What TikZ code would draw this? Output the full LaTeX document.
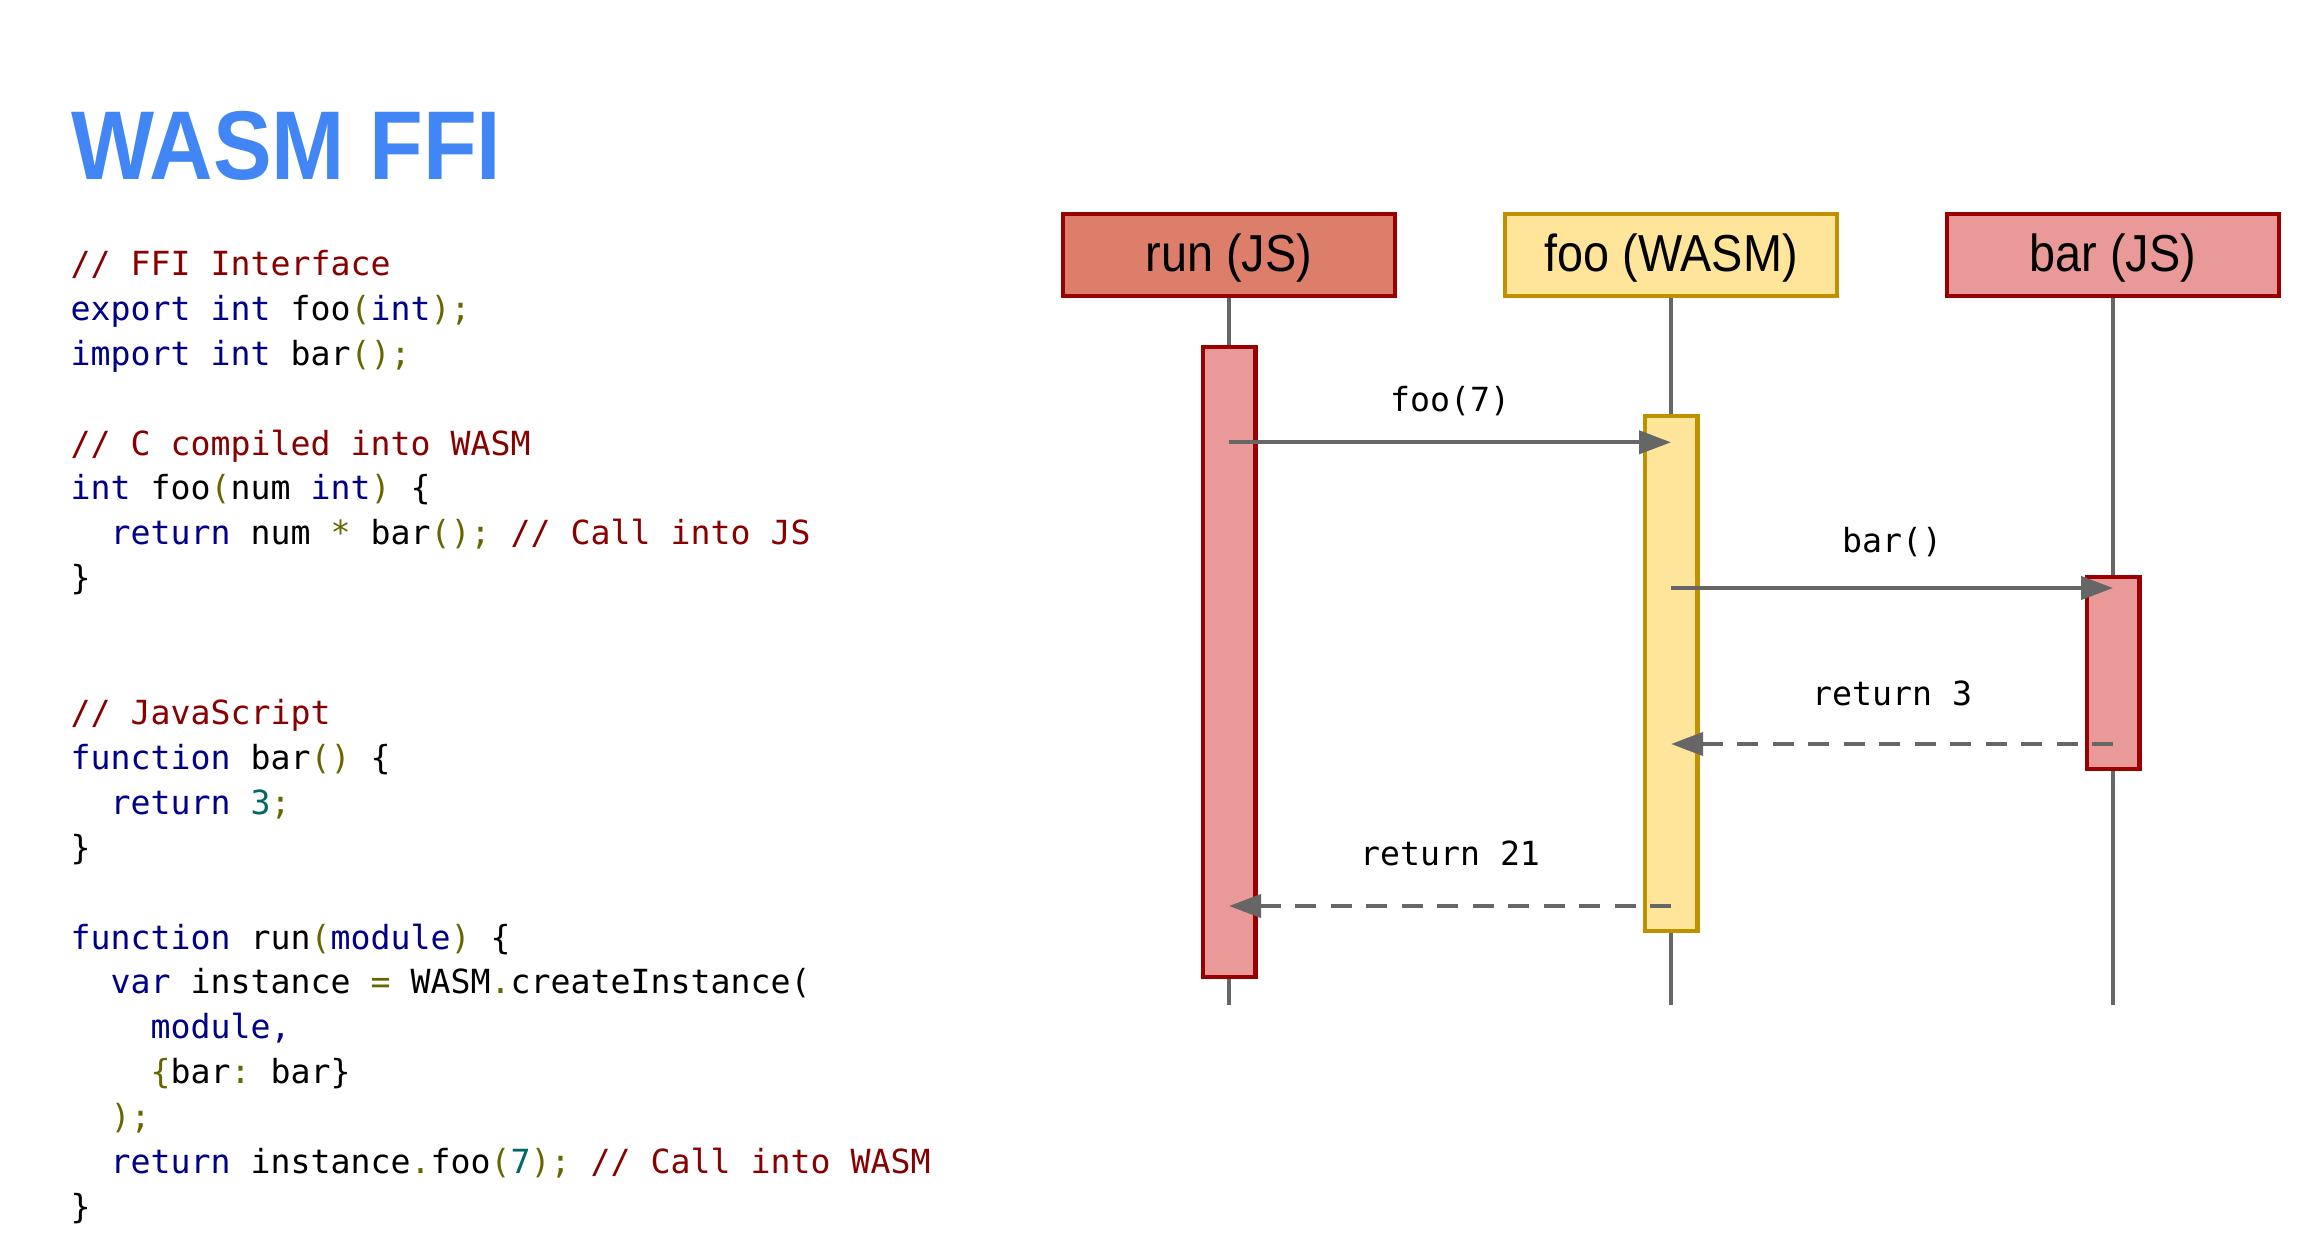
\documentclass[tikz,border=0pt]{standalone}
\usepackage{fontspec}
\usetikzlibrary{positioning, arrows.meta}

\newfontfamily\codefont{DejaVu Sans Mono}
\newfontfamily\headfont[FakeStretch=0.9]{Liberation Sans}

\definecolor{titleblue}{HTML}{4285F4}
\definecolor{runfill}{HTML}{DD7E6B}
\definecolor{jsfill}{HTML}{EA9999}
\definecolor{jsline}{HTML}{990000}
\definecolor{wasmfill}{HTML}{FFE599}
\definecolor{wasmline}{HTML}{BF9000}
\definecolor{linegray}{HTML}{666666}
\definecolor{comred}{HTML}{880000}
\definecolor{kwdblue}{HTML}{000088}
\definecolor{punolive}{HTML}{666600}
\definecolor{litteal}{HTML}{006666}

\newcommand{\kw}[1]{\textcolor{kwdblue}{#1}}
\newcommand{\cmt}[1]{\textcolor{comred}{#1}}
\newcommand{\pn}[1]{\textcolor{punolive}{#1}}
\newcommand{\lit}[1]{\textcolor{litteal}{#1}}
\newcommand{\ind}{\hphantom{xx}}
\frenchspacing

\begin{document}
\begin{tikzpicture}[
        node distance=1.06cm,
        header/.style={draw, line width=0.04cm, minimum width=3.32cm, minimum height=0.82cm, inner sep=0pt, text height=0.44cm, text depth=0.106cm, font=\headfont\fontsize{14.8pt}{17pt}\selectfont},
        act/.style={draw, line width=0.045cm, minimum width=0.525cm, inner sep=0pt},
        life/.style={draw=linegray, line width=0.04cm},
        call/.style={draw=linegray, line width=0.04cm, -{Triangle[length=0.32cm, width=0.23cm]}},
        ret/.style={call, dash pattern=on 0.21cm off 0.145cm},
        code/.style={anchor=base west, inner sep=0pt, font=\codefont\fontsize{9.45pt}{12pt}\selectfont},
        msg/.style={anchor=base, inner sep=0pt, font=\codefont\fontsize{9.45pt}{12pt}\selectfont}
    ]
    \useasboundingbox[fill=white] (0,0) rectangle (23.1,-12.48);

    % Title
    \node[anchor=base west, inner sep=0pt, text=titleblue, font=\headfont\bfseries\fontsize{27.8pt}{32pt}\selectfont] (title) at (0.707,-1.798) {WASM FFI};

    % Code
    \node[code] (code0) at (0.70,-2.755) {\cmt{// FFI Interface}};
    \node[code] (code1) at (0.70,-3.204) {\kw{export int} foo\pn{(}\kw{int}\pn{);}};
    \node[code] (code2) at (0.70,-3.653) {\kw{import int} bar\pn{();}};
    \node[code] (code4) at (0.70,-4.551) {\cmt{// C compiled into WASM}};
    \node[code] (code5) at (0.70,-5.000) {\kw{int} foo\pn{(}num \kw{int}\pn{)} \{};
    \node[code] (code6) at (0.70,-5.449) {\ind\kw{return} num \pn{*} bar\pn{();} \cmt{// Call into JS}};
    \node[code] (code7) at (0.70,-5.898) {\}};
    \node[code] (code10) at (0.70,-7.245) {\cmt{// JavaScript}};
    \node[code] (code11) at (0.70,-7.694) {\kw{function} bar\pn{()} \{};
    \node[code] (code12) at (0.70,-8.143) {\ind\kw{return} \lit{3}\pn{;}};
    \node[code] (code13) at (0.70,-8.592) {\}};
    \node[code] (code15) at (0.70,-9.490) {\kw{function} run\pn{(}\kw{module}\pn{)} \{};
    \node[code] (code16) at (0.70,-9.939) {\ind\kw{var} instance \pn{=} WASM\pn{.}createInstance(};
    \node[code] (code17) at (0.70,-10.388) {\ind\ind\kw{module,}};
    \node[code] (code18) at (0.70,-10.837) {\ind\ind\pn{\{}bar\pn{:} bar\}};
    \node[code] (code19) at (0.70,-11.286) {\ind\pn{);}};
    \node[code] (code20) at (0.70,-11.735) {\ind\kw{return} instance\pn{.}foo\pn{(}\lit{7}\pn{);} \cmt{// Call into WASM}};
    \node[code] (code21) at (0.70,-12.184) {\}};

    % Headers
    \node[header, fill=runfill, draw=jsline] (run) at (12.29,-2.55) {run (JS)};
    \node[header, fill=wasmfill, draw=wasmline, right=of run] (foo) {foo (WASM)};
    \node[header, fill=jsfill, draw=jsline, right=of foo] (bar) {bar (JS)};

    % Lifelines
    \coordinate (lifeend) at (0,-10.05);
    \draw[life] (run.south) -- (run.south |- lifeend);
    \draw[life] (foo.south) -- (foo.south |- lifeend);
    \draw[life] (bar.south) -- (bar.south |- lifeend);

    % Activations
    \node[act, fill=jsfill, draw=jsline, minimum height=6.295cm, below=0.47cm of run] (runact) {};
    \node[act, fill=wasmfill, draw=wasmline, minimum height=5.145cm, below=1.16cm of foo] (fooact) {};
    \node[act, fill=jsfill, draw=jsline, minimum height=1.915cm, below=2.77cm of bar] (baract) {};

    % Messages
    \draw[call] (run.south |- 0,-4.423) -- node[msg, yshift=0.306cm] (lfoo) {foo(7)} (foo.south |- 0,-4.423);
    \draw[call] (foo.south |- 0,-5.88) -- node[msg, yshift=0.353cm] (lbar) {bar()} (bar.south |- 0,-5.88);
    \draw[ret] (bar.south |- 0,-7.44) -- node[msg, yshift=0.39cm] (lret3) {return 3} (foo.south |- 0,-7.44);
    \draw[ret] (foo.south |- 0,-9.06) -- node[msg, yshift=0.403cm] (lret21) {return 21} (run.south |- 0,-9.06);
\end{tikzpicture}
\end{document}
